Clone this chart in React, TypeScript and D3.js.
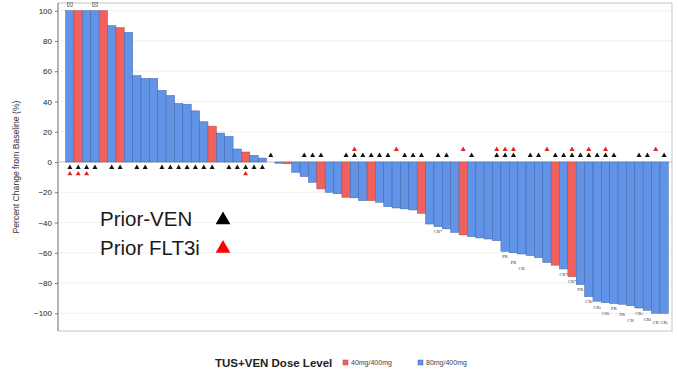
import React, { useEffect, useRef } from "react";
import * as d3 from "d3";

// ---- data ----
const pctChange: number[] = [
  100, 100, 100, 100, 100, 90.1, 88.8, 85.7, 57.1, 55.2, 55.2, 47.3, 44, 38.7, 38.2, 33.8,
  26.6, 23.7, 19.1, 16.9, 8.6, 6.6, 4.4, 2.6, 0, -0.8, -1.2, -6.8, -9.6, -13.4, -17.8, -20,
  -21, -23.3, -23.7, -25.5, -25.5, -26.6, -29.5, -30.4, -31, -31.7, -33.9, -41, -42.7, -44.2,
  -46.5, -48.2, -49.3, -50.2, -50.9, -52, -59, -60, -60.8, -61.8, -63.2, -66.4, -68.2, -70.7,
  -75.8, -81, -89, -92, -93, -93.5, -94, -95, -96.5, -98, -100, -100,
];
// patients on 40mg/400mg (1-based bar numbers); all others 80mg/400mg
const dose40Bars: number[] = [2, 5, 7, 18, 22, 27, 31, 34, 37, 43, 48, 59, 61];
const priorVenBars: number[] = [
  1, 2, 3, 4, 6, 7, 9, 10, 12, 13, 14, 15, 16, 17, 18, 20, 21, 22, 23, 24, 25, 29, 30, 31,
  34, 35, 36, 37, 38, 39, 41, 42, 43, 45, 46, 49, 52, 53, 54, 56, 57, 59, 60, 61, 62, 63, 64,
  65, 66, 69, 70, 72,
];
const priorFlt3iBars: number[] = [1, 2, 3, 22, 35, 40, 48, 52, 53, 54, 58, 61, 63, 65, 71];
const responseBars: number[] = [45, 53, 54, 55, 60, 61, 62, 63, 64, 65, 66, 67, 68, 69, 70, 71, 72];
const responseLabels: string[] = [
  "CR*", "PR", "PR", "CR", "CR*", "CR*", "PR", "CRi", "CRi", "CRi", "PR", "PR", "CR", "CRi", "CRi", "CR", "CRi",
];
const cappedBars: number[] = [1, 4];
const yTicks: number[] = [-100, -80, -60, -40, -20, 0, 20, 40, 60, 80, 100];
const doseLabels: string[] = ["40mg/400mg", "80mg/400mg"];

const RED = "#f0605c";
const BLUE = "#6193e6";

export default function App() {
  const axisRef = useRef<SVGGElement>(null);
  const W = 678, H = 371;
  const idx = pctChange.map((_, i) => i + 1);
  const x = d3.scaleBand<number>().domain(idx).range([65.7, 668.3]).padding(0);
  const y = d3.scaleLinear().domain([-100, 100]).range([313.3, 10.7]);
  const y0 = y(0);
  const frame = { l: 58, t: 3, r: 672, b: 331 };

  useEffect(() => {
    if (!axisRef.current) return;
    const g = d3.select(axisRef.current);
    g.selectAll("*").remove();
    g.call(d3.axisLeft(y).tickValues(yTicks).tickSize(3).tickPadding(3) as any);
    g.select(".domain").remove();
    g.selectAll(".tick line").attr("stroke", "#777");
    g.selectAll(".tick text")
      .attr("font-family", "Liberation Sans, Arial, sans-serif")
      .attr("font-size", 8)
      .attr("fill", "#222");
  }, []);

  const tri = d3.symbol().type(d3.symbolTriangle).size(11)() as string;
  const bigTri = d3.symbol().type(d3.symbolTriangle).size(95)() as string;

  // response label placement: just under the bar, staggered if it collides with the previous label
  const labelPos: { x: number; y: number; t: string }[] = [];
  responseBars.forEach((b, k) => {
    const natural = y(pctChange[b - 1]) + 5.5;
    let ly = natural;
    const prev = labelPos[k - 1];
    if (prev && responseBars[k - 1] === b - 1 && Math.abs(natural - prev.y) < 5) ly = prev.y + 6;
    if (ly > frame.b - 8) ly = Math.max(natural, frame.b - 8);
    labelPos.push({ x: (x(b) as number) + x.bandwidth() / 2, y: ly, t: responseLabels[k] });
  });

  const font = "Liberation Sans, Arial, sans-serif";

  return (
    <svg width={W} height={H} style={{ position: "absolute", left: 0, top: 0, background: "#fff" }}>
      {/* grid */}
      {yTicks.map((t) => (
        <line key={t} x1={frame.l} x2={frame.r} y1={y(t)} y2={y(t)} stroke="#ececec" strokeWidth={0.8} />
      ))}
      <rect x={frame.l} y={frame.t} width={frame.r - frame.l} height={frame.b - frame.t} fill="none" stroke="#c4c4c4" strokeWidth={1} />
      <line x1={frame.l} x2={frame.l} y1={frame.t} y2={frame.b} stroke="#888" strokeWidth={1} />
      <line x1={frame.l} x2={frame.r} y1={y0} y2={y0} stroke="#bbb" strokeWidth={0.8} />

      {/* bars */}
      {pctChange.map((v, i) => {
        const b = i + 1;
        const top = Math.min(y(v), y0);
        const h = Math.abs(y(v) - y0);
        const is40 = dose40Bars.includes(b);
        return (
          <rect
            key={b}
            x={x(b)}
            y={top}
            width={x.bandwidth()}
            height={h}
            fill={is40 ? RED : BLUE}
            stroke={is40 ? "#b8453f" : "#3f63a8"}
            strokeWidth={0.5}
          />
        );
      })}

      {/* capped markers */}
      {cappedBars.map((b) => {
        const cx = (x(b) as number) + x.bandwidth() / 2;
        return (
          <g key={b} stroke="#777" strokeWidth={0.6} fill="none">
            <rect x={cx - 2.5} y={2.5} width={5} height={4} />
            <line x1={cx - 2.5} x2={cx + 2.5} y1={2.5} y2={6.5} />
            <line x1={cx - 2.5} x2={cx + 2.5} y1={6.5} y2={2.5} />
          </g>
        );
      })}

      {/* prior therapy markers */}
      {priorVenBars.map((b) => {
        const cx = (x(b) as number) + x.bandwidth() / 2;
        const cy = pctChange[b - 1] > 0 ? y0 + 5.5 : y0 - 6.5;
        return <path key={"v" + b} d={tri} transform={`translate(${cx},${cy})`} fill="#111" />;
      })}
      {priorFlt3iBars.map((b) => {
        const cx = (x(b) as number) + x.bandwidth() / 2;
        const cy = pctChange[b - 1] > 0 ? y0 + 11.8 : y0 - 12.5;
        return <path key={"f" + b} d={tri} transform={`translate(${cx},${cy})`} fill="#e8231f" />;
      })}

      {/* response labels */}
      {labelPos.map((l, k) => (
        <text key={k} x={l.x} y={l.y} fontSize={4.6} fontFamily="Liberation Serif, serif" fill="#333" textAnchor="middle" dominantBaseline="middle">
          {l.t}
        </text>
      ))}

      {/* y axis */}
      <g ref={axisRef} transform={`translate(${frame.l},0)`} />
      <text
        transform={`translate(19,${167}) rotate(-90)`}
        textAnchor="middle"
        fontSize={8.6}
        fontFamily={font}
        fill="#333"
      >
        Percent Change from Baseline (%)
      </text>

      {/* in-plot annotation legend */}
      <text x={100} y={226} fontSize={20.5} fontFamily={font} fill="#1a1a1a">Prior-VEN</text>
      <path d={bigTri} transform="translate(223,220)" fill="#000" />
      <text x={100} y={255} fontSize={20.5} fontFamily={font} fill="#1a1a1a">Prior FLT3i</text>
      <path d={bigTri} transform="translate(223,248.5)" fill="#f00" />

      {/* dose legend */}
      <text x={215} y={367} fontSize={11.5} fontWeight="bold" fontFamily={font} fill="#222">TUS+VEN Dose Level</text>
      <rect x={343} y={360} width={5} height={5} fill={RED} stroke="#b8453f" strokeWidth={0.5} />
      <text x={351} y={365} fontSize={7} fontFamily={font} fill="#444">{doseLabels[0]}</text>
      <rect x={418} y={360} width={5} height={5} fill={BLUE} stroke="#3f63a8" strokeWidth={0.5} />
      <text x={426} y={365} fontSize={7} fontFamily={font} fill="#444">{doseLabels[1]}</text>
    </svg>
  );
}
